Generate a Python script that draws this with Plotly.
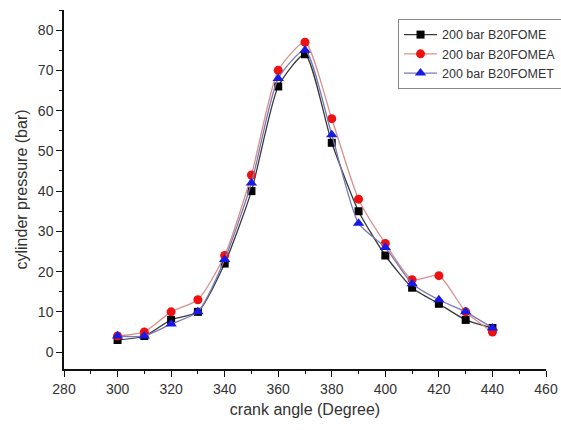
import plotly.graph_objects as go

crank_angle = [300, 310, 320, 330, 340, 350, 360, 370, 380, 390, 400, 410, 420, 430, 440]
p_fome = [3, 4, 8, 10, 22, 40, 66, 74, 52, 35, 24, 16, 12, 8, 6]
p_fomea = [4, 5, 10, 13, 24, 44, 70, 77, 58, 38, 27, 18, 19, 10, 5]
p_fomet = [4, 4, 7, 10, 23, 42, 68, 75, 54, 32, 26, 17, 13, 10, 6]
names = ["200 bar B20FOME", "200 bar B20FOMEA", "200 bar B20FOMET"]

fig = go.Figure()
fig.add_trace(go.Scatter(x=crank_angle, y=p_fome, name=names[0], mode="lines+markers",
                         line=dict(color="#3a3a3a", width=1.3, shape="spline", smoothing=0.6),
                         marker=dict(symbol="square", size=8, color="#000000")))
fig.add_trace(go.Scatter(x=crank_angle, y=p_fomea, name=names[1], mode="lines+markers",
                         line=dict(color="#d9908a", width=1.3, shape="spline", smoothing=0.6),
                         marker=dict(symbol="circle", size=9, color="#ee1111")))
fig.add_trace(go.Scatter(x=crank_angle, y=p_fomet, name=names[2], mode="lines+markers",
                         line=dict(color="#7a78b8", width=1.3, shape="spline", smoothing=0.6),
                         marker=dict(symbol="triangle-up", size=10, color="#1a1ae6")))

axis_common = dict(showline=True, linecolor="#111", linewidth=1.5, ticks="outside",
                   ticklen=6, tickwidth=1.2, tickcolor="#111", showgrid=False, zeroline=False,
                   tickfont=dict(family="Liberation Sans, Arial", size=14, color="#333"))

fig.update_xaxes(range=[280, 460], dtick=20, tick0=280,
                 minor=dict(dtick=10, ticks="outside", ticklen=3, tickcolor="#111"),
                 title=dict(text="crank angle (Degree)", standoff=8,
                            font=dict(family="Liberation Sans, Arial", size=16, color="#333")),
                 **axis_common)
fig.update_yaxes(range=[-4.2, 85], dtick=10, tick0=0,
                 minor=dict(dtick=5, ticks="outside", ticklen=3, tickcolor="#111"),
                 title=dict(text="cylinder pressure (bar)", standoff=6,
                            font=dict(family="Liberation Sans, Arial", size=16, color="#333")),
                 **axis_common)

fig.update_layout(
    width=561, height=430,
    margin=dict(l=64, r=15, t=10, b=61, autoexpand=False),
    plot_bgcolor="white", paper_bgcolor="white",
    showlegend=True,
    legend=dict(x=0.693, y=0.975, xanchor="left", yanchor="top",
                bordercolor="#888", borderwidth=1, bgcolor="white",
                font=dict(family="Liberation Sans, Arial", size=12.5, color="#333"),
                tracegroupgap=0, itemwidth=33),
)

fig.write_html("out.html")
